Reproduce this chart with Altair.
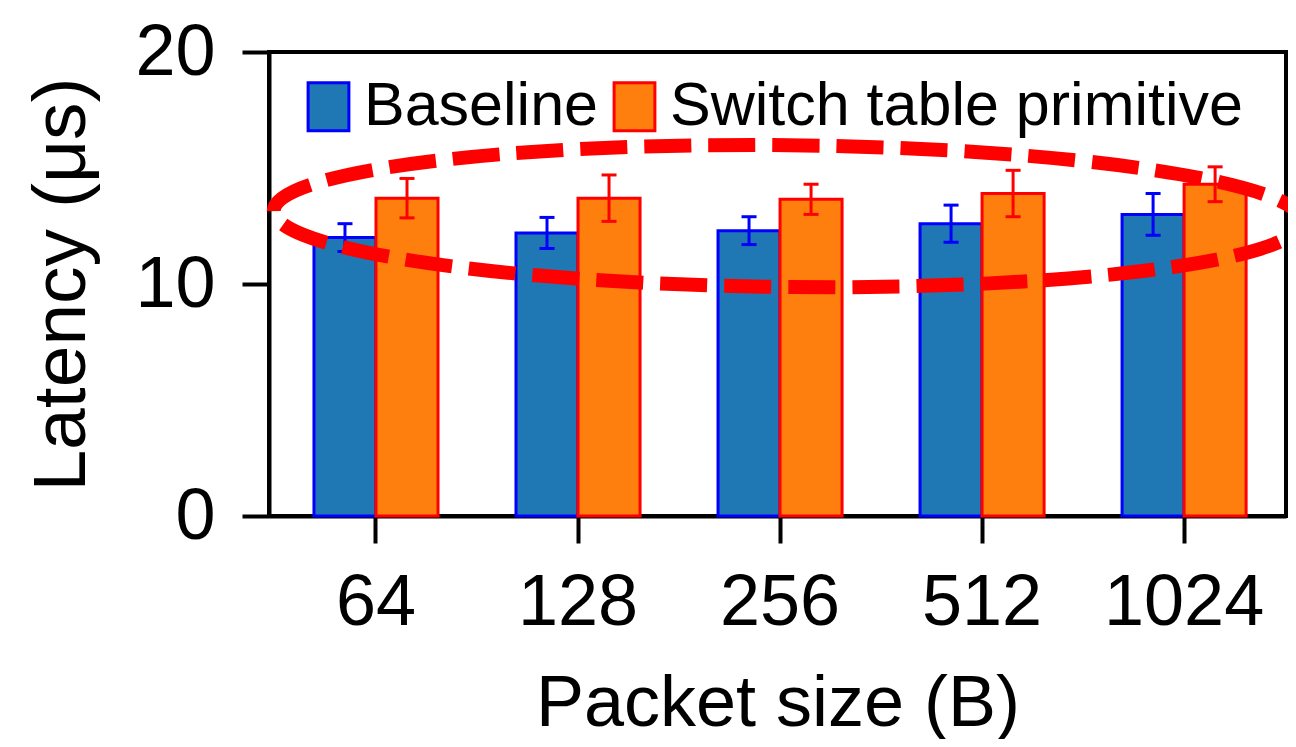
import altair as alt
import pandas as pd

sizes = ["64", "128", "256", "512", "1024"]
series_names = ["Baseline", "Switch table primitive"]
baseline = [12.0, 12.2, 12.3, 12.6, 13.0]
baseline_err = [0.6, 0.67, 0.6, 0.8, 0.9]
switch = [13.7, 13.7, 13.65, 13.9, 14.3]
switch_err = [0.85, 1.0, 0.65, 1.0, 0.75]
fill_colors = ["#1f77b4", "#ff7f0e"]
edge_colors = ["#0000ff", "#ff0000"]

# annotation ellipse (data coordinates of its centre)
ellipse_size = ["256"]
ellipse_value = [12.93]

rows = []
for s, v, e in zip(sizes, baseline, baseline_err):
    rows.append(dict(size=s, series=series_names[0], value=v, lo=v - e, hi=v + e))
for s, v, e in zip(sizes, switch, switch_err):
    rows.append(dict(size=s, series=series_names[1], value=v, lo=v - e, hi=v + e))
df = pd.DataFrame(rows)
ell = pd.DataFrame({"size": ellipse_size, "value": ellipse_value})

FONT = "Liberation Sans"

x_enc = alt.X(
    "size:N", sort=sizes, title="Packet size (B)",
    scale=alt.Scale(paddingInner=0.386, paddingOuter=0.21, align=0.53),
    axis=alt.Axis(labelAngle=0, labelPadding=24, titlePadding=30),
)
xo_enc = alt.XOffset("series:N", sort=series_names,
                     scale=alt.Scale(domain=series_names, paddingInner=0, paddingOuter=0))
y_enc = alt.Y("value:Q", title="Latency (μs)",
              scale=alt.Scale(domain=[0, 20], nice=False),
              axis=alt.Axis(values=[0, 10, 20], labelPadding=27, titlePadding=34,
                            titleFontSize=75))

rect_symbol = "M -0.85 -1 L 0.85 -1 L 0.85 1 L -0.85 1 Z"
legend = alt.Legend(title=None, orient="none", legendX=29, legendY=24,
                    direction="horizontal", symbolType=rect_symbol)
fill_enc = alt.Fill("series:N", scale=alt.Scale(domain=series_names, range=fill_colors),
                    legend=legend, title=None)
stroke_enc = alt.Stroke("series:N", scale=alt.Scale(domain=series_names, range=edge_colors),
                        legend=legend, title=None)

base = alt.Chart(df)
bars = base.mark_bar(strokeWidth=3).encode(x=x_enc, xOffset=xo_enc, y=y_enc,
                                           fill=fill_enc, stroke=stroke_enc)
rules = base.mark_rule(strokeWidth=3).encode(x=x_enc, xOffset=xo_enc,
                                             y=alt.Y("lo:Q"), y2="hi:Q", stroke=stroke_enc)
caps = []
for name, col in zip(series_names, edge_colors):
    for fld in ["lo", "hi"]:
        caps.append(
            base.transform_filter(alt.datum.series == name)
            .mark_tick(color=col, size=15, thickness=3, opacity=1)
            .encode(x=x_enc, xOffset=xo_enc, y=alt.Y(f"{fld}:Q"))
        )

ellipse_path = "M -0.985 0 A 1 0.138 0 1 1 1.015 0 A 1 0.138 0 1 1 -0.985 0 Z"
ellipse = alt.Chart(ell).mark_point(
    shape=ellipse_path, size=514 * 2 * 514 * 2, filled=False, stroke="#ff0000",
    strokeWidth=14, strokeDash=[47, 17], opacity=1, angle=0.6,
).encode(x=alt.X("size:N", sort=sizes), y=alt.Y("value:Q"))

chart = alt.layer(bars, rules, *caps, ellipse).properties(
    width=1017, height=464,
    autosize=alt.AutoSizeParams(type="none"),
    padding={"left": 261, "top": 44, "right": 2, "bottom": 223},
).configure_view(stroke="black", strokeWidth=4).configure_axis(
    domainColor="black", domainWidth=4, tickColor="black", tickWidth=4, tickSize=27,
    grid=False, labelFont=FONT, labelFontSize=72, labelColor="black",
    titleFont=FONT, titleFontSize=72, titleColor="black", titleFontWeight="normal",
).configure_legend(
    labelFont=FONT, labelFontSize=61, labelColor="black", symbolSize=2304,
    symbolStrokeWidth=3, columnPadding=6, labelOffset=5, labelLimit=1000,
)

chart.save("out.html", embed_options={"renderer": "svg", "actions": False})
